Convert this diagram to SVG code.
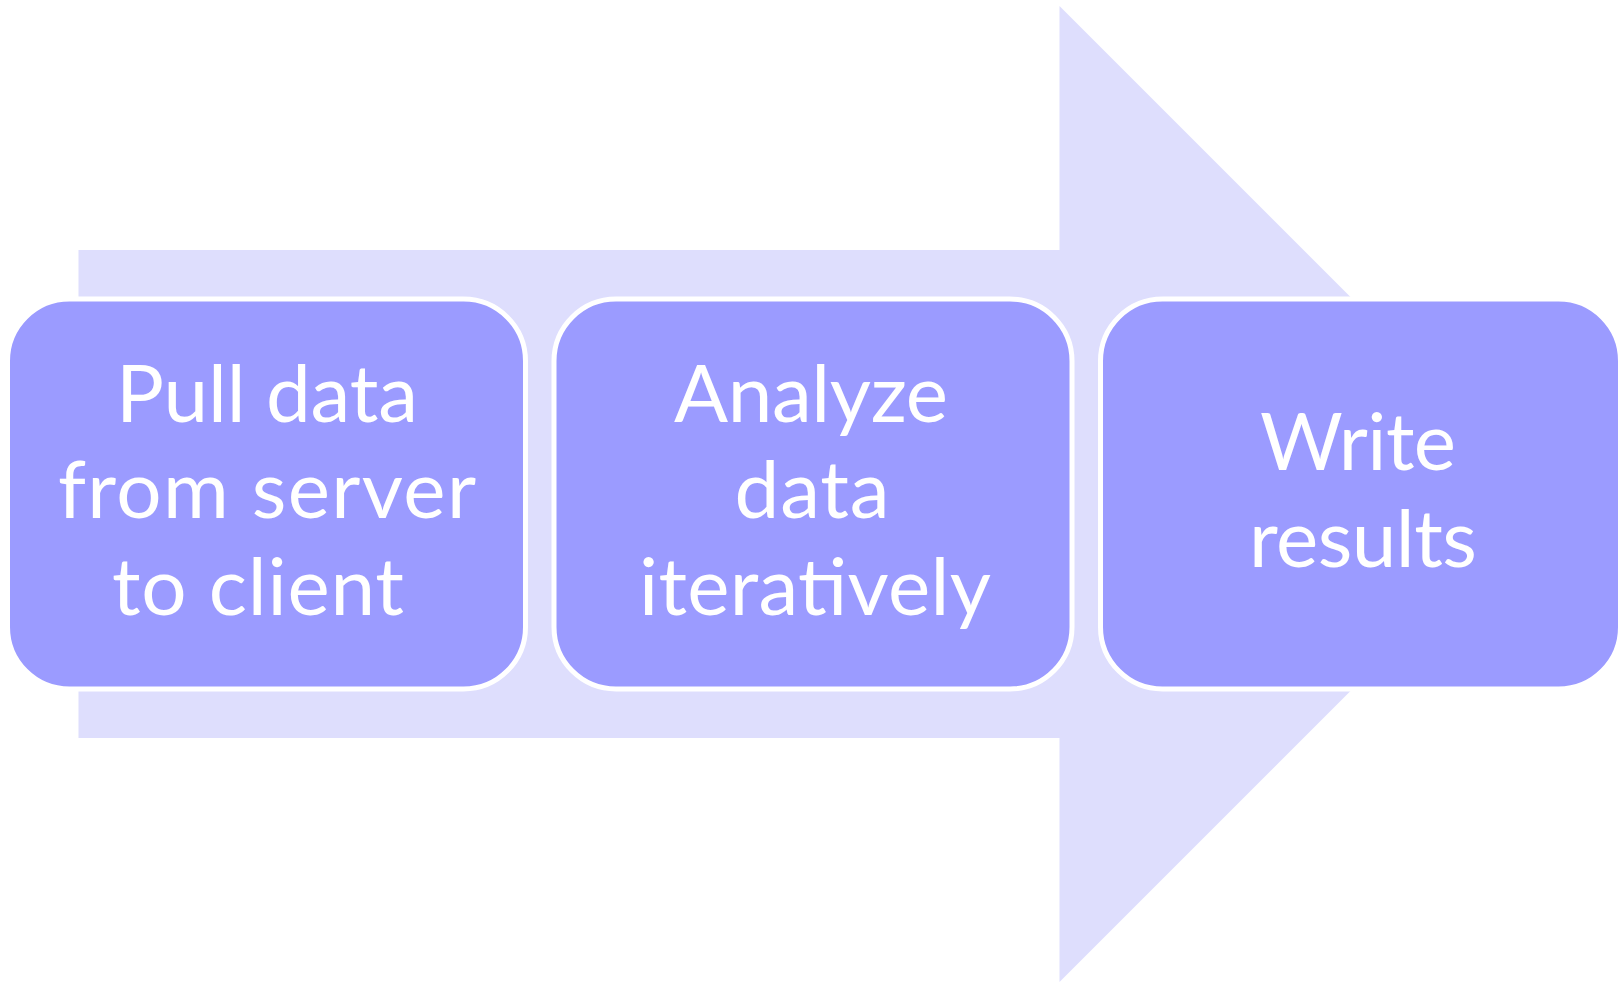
<svg xmlns="http://www.w3.org/2000/svg" width="1619" height="982" viewBox="0 0 1619 982">
  <style>
    .box { fill: #9B9BFF; stroke: #FFFFFF; stroke-width: 5; }
    .lbl { font-family: Lato, "Liberation Sans", sans-serif; font-size: 80px; fill: #FFFFFF; text-anchor: middle; }
  </style>
  <rect width="1619" height="982" fill="#FFFFFF"/>
  <g id="connectors">
    <path id="big-arrow" d="M78.5,250 L1059.5,250 L1059.5,6 L1547.5,494 L1059.5,982 L1059.5,738 L78.5,738 Z" fill="#DEDEFD"/>
  </g>
  <g id="node1">
    <rect class="box" x="7.5" y="299" width="518" height="390" rx="62" ry="62"/>
    <text class="lbl" x="267" y="421.7" textLength="302" lengthAdjust="spacing">Pull data</text>
    <text class="lbl" x="267" y="518.3" textLength="418" lengthAdjust="spacing">from server</text>
    <text class="lbl" x="258" y="615" textLength="292" lengthAdjust="spacing">to client</text>
  </g>
  <g id="node2">
    <rect class="box" x="554" y="299" width="518" height="390" rx="62" ry="62"/>
    <text class="lbl" x="811" y="421.7" textLength="274" lengthAdjust="spacing">Analyze</text>
    <text class="lbl" x="812" y="518.3" textLength="155" lengthAdjust="spacing">data</text>
    <text class="lbl" x="815" y="615" textLength="352" lengthAdjust="spacing">iteratively</text>
  </g>
  <g id="node3">
    <rect class="box" x="1100.5" y="299" width="520" height="390" rx="62" ry="62"/>
    <text class="lbl" x="1358" y="470" textLength="196" lengthAdjust="spacing">Write</text>
    <text class="lbl" x="1363" y="566.7" textLength="228" lengthAdjust="spacing">results</text>
  </g>
</svg>
